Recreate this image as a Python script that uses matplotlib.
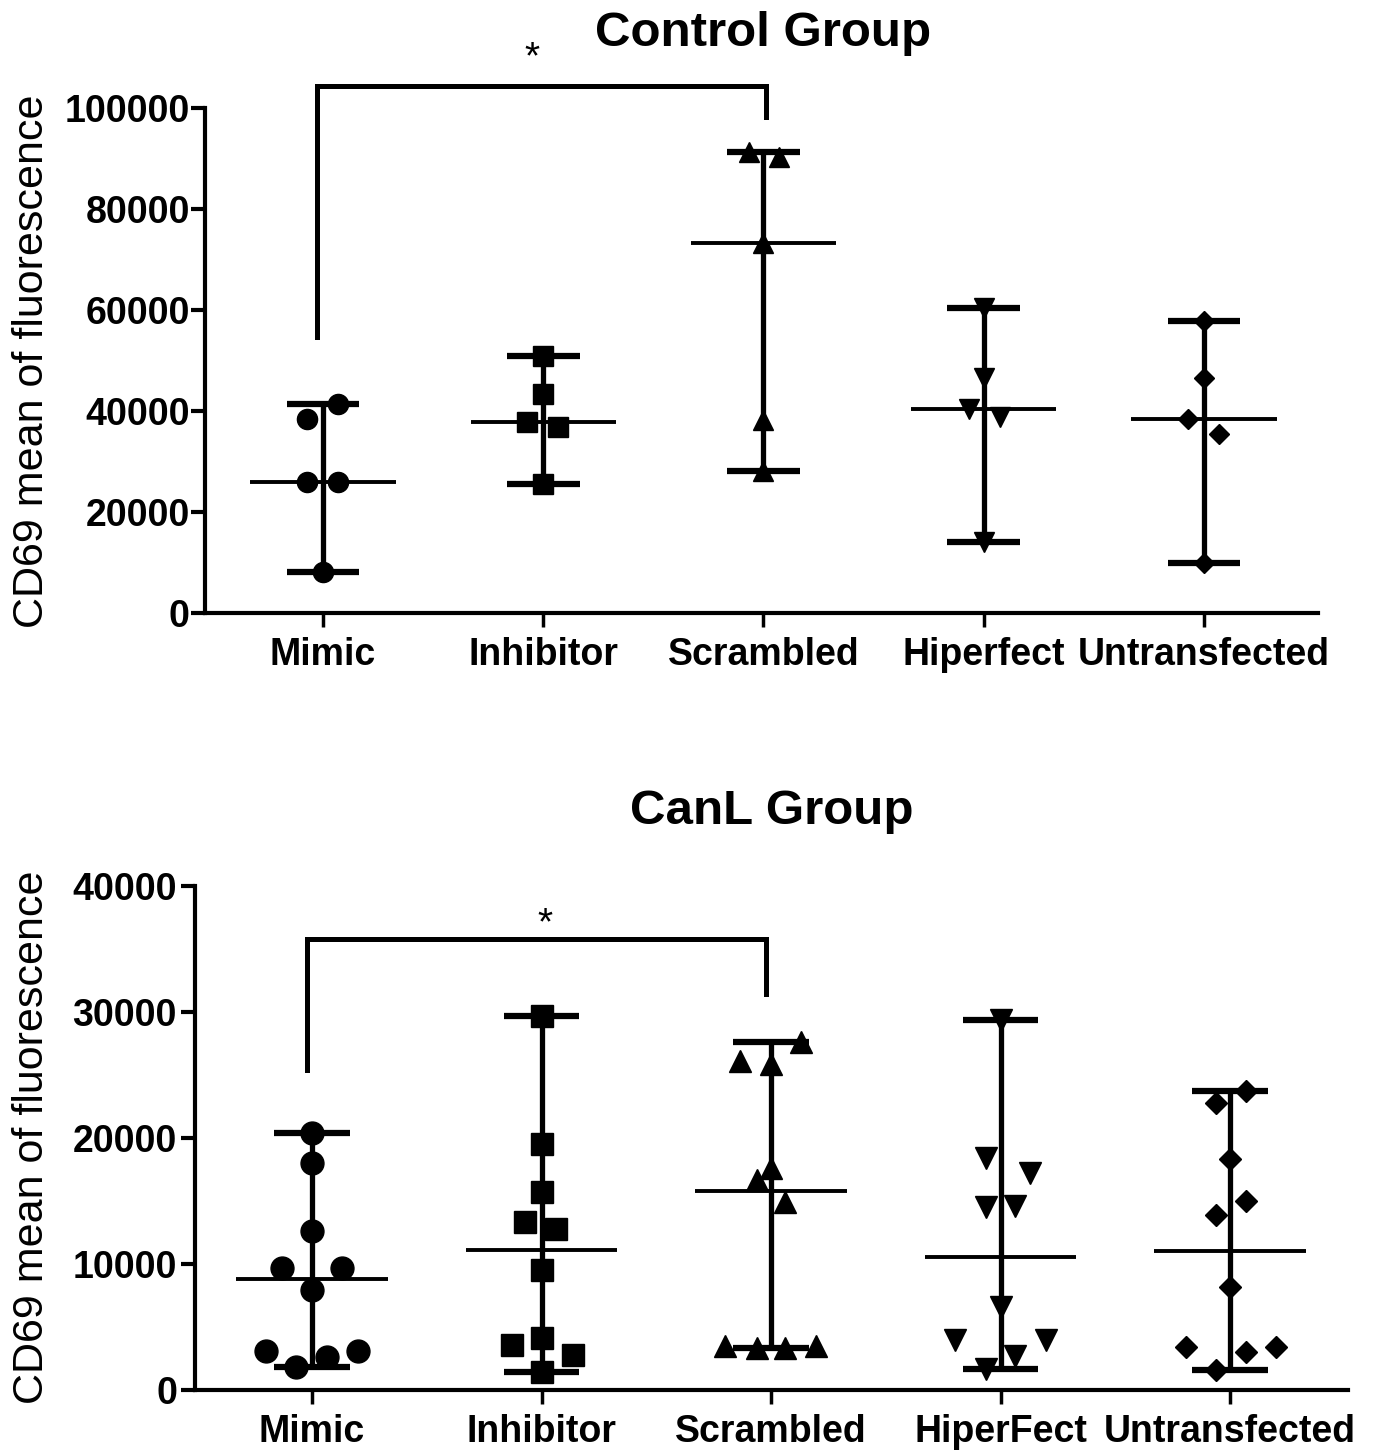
import numpy as np
import matplotlib
matplotlib.use('Agg')
import matplotlib.pyplot as plt

plt.rcParams['font.family'] = ['Liberation Sans', 'DejaVu Sans']

# categories
labels_control = ['Mimic', 'Inhibitor', 'Scrambled', 'Hiperfect', 'Untransfected']
labels_canl = ['Mimic', 'Inhibitor', 'Scrambled', 'HiperFect', 'Untransfected']

# Control group values (CD69 MFI) and horizontal jitter of each point
ctrl_mimic = [41300, 38500, 26000, 26000, 8200]
ctrl_mimic_dx = [0.068, -0.073, -0.073, 0.068, 0]
ctrl_inhibitor = [50900, 43300, 37900, 36800, 25600]
ctrl_inhibitor_dx = [0, 0, -0.075, 0.068, 0]
ctrl_scrambled = [91300, 90300, 73300, 38200, 28200]
ctrl_scrambled_dx = [-0.068, 0.072, 0, 0, 0]
ctrl_hiperfect = [60400, 46600, 40400, 38900, 14000]
ctrl_hiperfect_dx = [0, 0, -0.068, 0.072, 0]
ctrl_untransfected = [57800, 46500, 38500, 35500, 10000]
ctrl_untransfected_dx = [0, 0, -0.072, 0.068, 0]

# CanL group values
canl_mimic = [20400, 18000, 12600, 9700, 9700, 7900, 3100, 3100, 2600, 1800]
canl_mimic_dx = [0, 0, 0, -0.13, 0.13, 0, -0.2, 0.2, 0.065, -0.07]
canl_inhibitor = [29700, 19500, 15700, 13300, 12800, 9500, 4100, 3600, 2800, 1400]
canl_inhibitor_dx = [0, 0, 0, -0.07, 0.065, 0, 0, -0.127, 0.135, 0]
canl_scrambled = [27600, 26100, 25900, 17600, 16700, 14900, 3500, 3300, 3300, 3500]
canl_scrambled_dx = [0.13, -0.135, 0, 0, -0.063, 0.063, -0.2, -0.063, 0.063, 0.195]
canl_hiperfect = [29400, 18400, 17200, 14500, 14600, 6600, 4000, 4000, 2700, 1700]
canl_hiperfect_dx = [0, -0.063, 0.13, -0.063, 0.063, 0, -0.2, 0.2, 0.063, -0.063]
canl_untransfected = [23700, 22800, 18300, 15000, 13900, 8200, 3400, 3400, 3000, 1600]
canl_untransfected_dx = [0.07, -0.063, 0, 0.07, -0.063, 0, -0.19, 0.2, 0.07, -0.063]

ctrl_groups = [ctrl_mimic, ctrl_inhibitor, ctrl_scrambled, ctrl_hiperfect, ctrl_untransfected]
ctrl_dx = [ctrl_mimic_dx, ctrl_inhibitor_dx, ctrl_scrambled_dx, ctrl_hiperfect_dx, ctrl_untransfected_dx]
canl_groups = [canl_mimic, canl_inhibitor, canl_scrambled, canl_hiperfect, canl_untransfected]
canl_dx = [canl_mimic_dx, canl_inhibitor_dx, canl_scrambled_dx, canl_hiperfect_dx, canl_untransfected_dx]

markers = ['o', 's', '^', 'v', 'D']
ms_control = [14.5, 14.5, 15, 15, 10]
ms_canl = [16.5, 16, 16.5, 16.5, 11.5]

CAP = 0.165
MED = 0.33
W, H = 1377, 1452


def draw_group(ax, x, vals, dx, marker, ms):
    vals = np.array(vals)
    lo, hi, med = vals.min(), vals.max(), np.median(vals)
    ax.plot([x, x], [lo, hi], color='black', lw=3.8, solid_capstyle='butt', zorder=2)
    for v in (lo, hi):
        ax.plot([x - CAP, x + CAP], [v, v], color='black', lw=4.5,
                solid_capstyle='butt', zorder=2)
    ax.plot([x - MED, x + MED], [med, med], color='black', lw=2.8,
            solid_capstyle='butt', zorder=2)
    ax.plot(x + np.array(dx), vals, linestyle='none', marker=marker, ms=ms,
            color='black', mec='black', zorder=3, clip_on=False)


def style_axes(ax, labels, yticks, xlim, ylim, ypad):
    ax.set_xlim(*xlim)
    ax.set_ylim(*ylim)
    for s in ('top', 'right'):
        ax.spines[s].set_visible(False)
    for s in ('left', 'bottom'):
        ax.spines[s].set_linewidth(3)
    ax.set_xticks(range(len(labels)))
    ax.set_xticklabels(labels, fontsize=27, fontweight='bold')
    ax.set_yticks(yticks)
    ax.set_yticklabels([str(t) for t in yticks], fontsize=27, fontweight='bold')
    ax.tick_params(axis='x', length=10, width=2.5, pad=7)
    ax.tick_params(axis='y', length=10, width=3, pad=ypad)


def bracket(ax, x0, x1, y_left, y_top, y_right, star_x, star_y):
    ax.plot([x0, x0, x1, x1], [y_left, y_top, y_top, y_right], color='black',
            lw=3.6, solid_joinstyle='miter', clip_on=False)
    ax.text(star_x, star_y, '*', fontsize=28, ha='center', va='baseline')


fig = plt.figure(figsize=(W / 100, H / 100), dpi=100)

# Control group
ax1 = fig.add_axes([205 / W, 1 - 613 / H, (1318 - 205) / W, (613 - 108) / H])
for i, (vals, dx) in enumerate(zip(ctrl_groups, ctrl_dx)):
    draw_group(ax1, i, vals, dx, markers[i], ms_control[i])
style_axes(ax1, labels_control, [0, 20000, 40000, 60000, 80000, 100000],
           (-0.536, 4.518), (0, 100000), 1)
bracket(ax1, -0.027, 2.01, 54700, 104400, 98200, 0.95, 107800)

# CanL group
ax2 = fig.add_axes([195 / W, 1 - 1390 / H, (1348 - 195) / W, (1390 - 886) / H])
for i, (vals, dx) in enumerate(zip(canl_groups, canl_dx)):
    draw_group(ax2, i, vals, dx, markers[i], ms_canl[i])
style_axes(ax2, labels_canl, [0, 10000, 20000, 30000, 40000],
           (-0.51, 4.514), (0, 40000), 3)
bracket(ax2, -0.022, 1.98, 25400, 35800, 31400, 1.015, 36200)

# titles and y labels
fig.text(763 / W, 1 - 46 / H, 'Control Group', fontsize=35.5, fontweight='bold',
         ha='center', va='baseline')
fig.text(772 / W, 1 - 824 / H, 'CanL Group', fontsize=35.5, fontweight='bold',
         ha='center', va='baseline')
fig.text(32 / W, 1 - 361 / H, 'CD69 mean of fluorescence', fontsize=31,
         rotation=90, ha='center', va='center')
fig.text(32 / W, 1 - 1137 / H, 'CD69 mean of fluorescence', fontsize=31,
         rotation=90, ha='center', va='center')

fig.savefig('out.png', dpi=100)
